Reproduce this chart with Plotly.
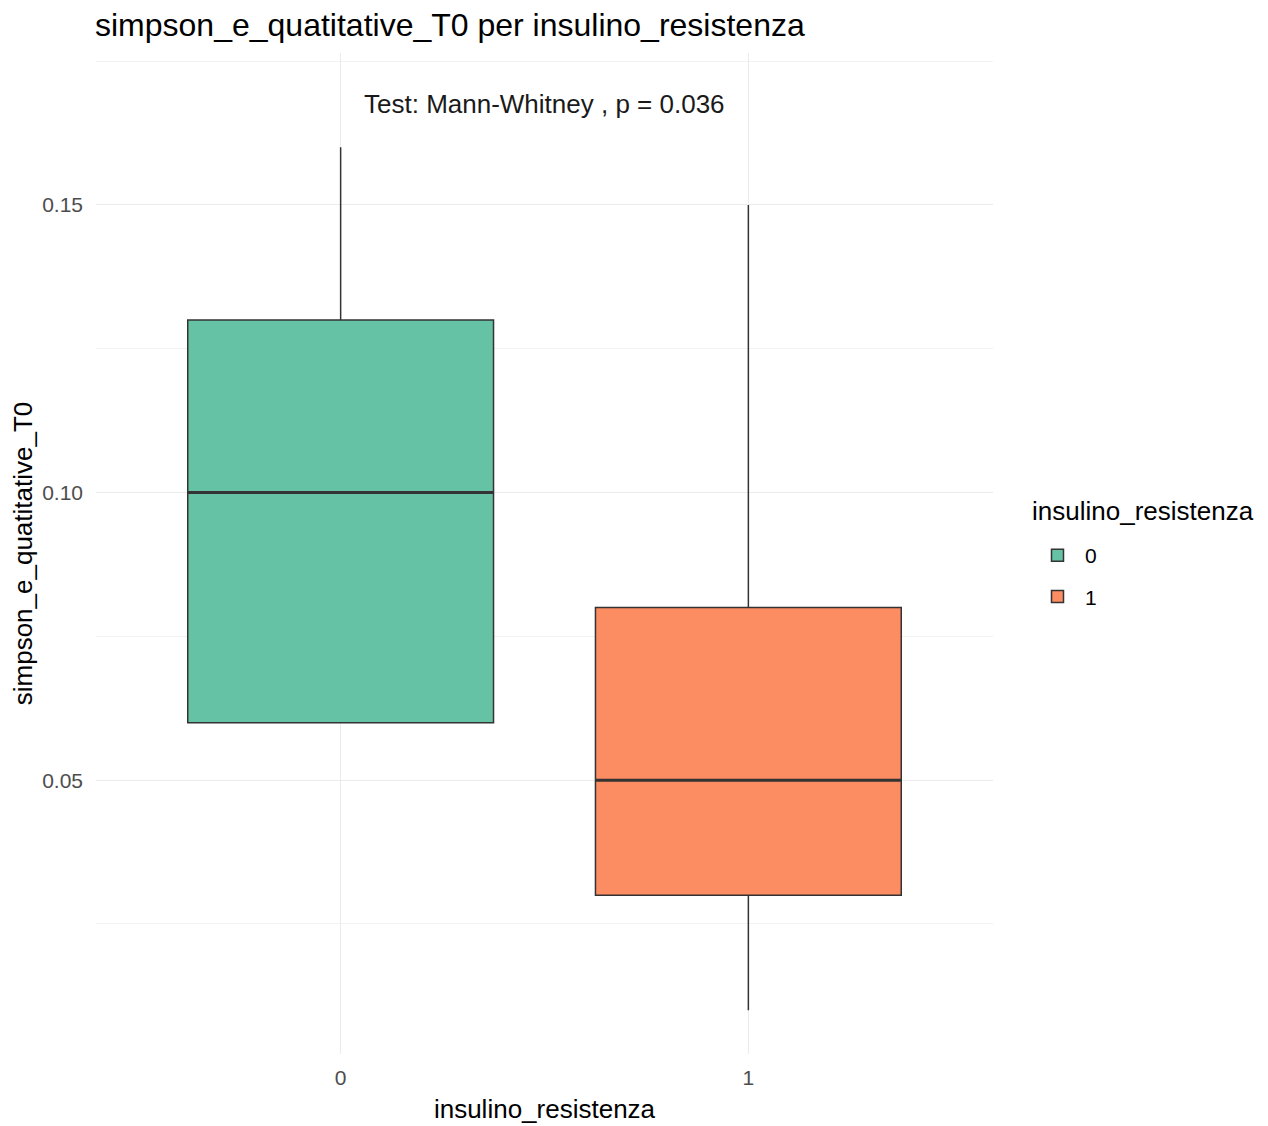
import plotly.graph_objects as go

groups = ["0", "1"]
x_pos = [0, 1]
q1 = [0.06, 0.03]
median = [0.10, 0.05]
q3 = [0.13, 0.08]
lowerfence = [0.06, 0.01]
upperfence = [0.16, 0.15]
colors = ["#66C2A5", "#FC8D62"]
annotation_text = "Test: Mann-Whitney , p = 0.036"
annotation_y = 0.1676

FONT = "Liberation Sans, Arial, sans-serif"
BOX_W = 0.75

# plot area in figure pixels (page has 8px body offset)
L, R, T, B = 88, 985, 45, 1046
PW, PH = R - L, B - T

fig = go.Figure()
for i, g in enumerate(groups):
    fig.add_trace(go.Box(
        x=[x_pos[i]],
        q1=[q1[i]], median=[median[i]], q3=[q3[i]],
        lowerfence=[lowerfence[i]], upperfence=[upperfence[i]],
        name=g,
        legendgroup=g,
        width=BOX_W,
        whiskerwidth=0,
        fillcolor=colors[i],
        line=dict(color="#333333", width=1.5),
        boxpoints=False,
        hoverinfo="skip",
    ))
# thicker median segments (ggplot style)
for i, g in enumerate(groups):
    fig.add_trace(go.Scatter(
        x=[x_pos[i] - BOX_W / 2, x_pos[i] + BOX_W / 2],
        y=[median[i], median[i]],
        mode="lines", line=dict(color="#333333", width=3),
        showlegend=False, hoverinfo="skip",
    ))

fig.add_annotation(
    x=0.5, y=annotation_y, xref="x", yref="y",
    text=annotation_text, showarrow=False,
    font=dict(family=FONT, size=26, color="#1a1a1a"),
)
# legend title
fig.add_annotation(
    x=(1022 - L) / PW, y=(B - (511 - 8)) / PH, xref="paper", yref="paper",
    xanchor="left", yanchor="middle",
    text="insulino_resistenza", showarrow=False,
    font=dict(family=FONT, size=26, color="black"),
)

fig.update_layout(
    width=1268, height=1126,
    margin=dict(l=L, r=1268 - R, t=T, b=1126 - B, autoexpand=False),
    paper_bgcolor="white", plot_bgcolor="white",
    font=dict(family=FONT, color="#1a1a1a"),
    title=dict(text="simpson_e_quatitative_T0 per insulino_resistenza",
               x=87/1268, xanchor="left", y=1-17/1126, yanchor="middle",
               font=dict(family=FONT, size=32, color="black")),
    xaxis=dict(
        range=[-0.6, 1.6], tickvals=x_pos, ticktext=groups,
        showgrid=True, gridcolor="#EBEBEB", gridwidth=1.2,
        zeroline=False, showline=False, ticks="",
        ticklabelstandoff=9,
        automargin=False,
        tickfont=dict(family=FONT, size=21, color="#4D4D4D"),
        title=dict(text="insulino_resistenza", font=dict(family=FONT, size=26, color="black"), standoff=11),
    ),
    yaxis=dict(
        range=[0.0024, 0.1764], tickvals=[0.05, 0.10, 0.15], ticktext=["0.05", "0.10", "0.15"],
        showgrid=True, gridcolor="#EBEBEB", gridwidth=1.2,
        minor=dict(tickvals=[0.025, 0.075, 0.125, 0.175], showgrid=True, gridcolor="#F2F2F2", gridwidth=1),
        zeroline=False, showline=False, ticks="",
        ticklabelstandoff=12,
        automargin=False,
        tickfont=dict(family=FONT, size=21, color="#4D4D4D"),
        title=dict(text="simpson_e_quatitative_T0", font=dict(family=FONT, size=26, color="black"), standoff=8),
    ),
    legend=dict(
        font=dict(family=FONT, size=21, color="black"),
        xref="paper", x=(1022 - L) / PW, yref="paper", y=(B - (535 - 8)) / PH, yanchor="top",
        tracegroupgap=11,
        itemwidth=45,
        bgcolor="rgba(0,0,0,0)",
    ),
    showlegend=True,
)

fig.write_html("out.html")
